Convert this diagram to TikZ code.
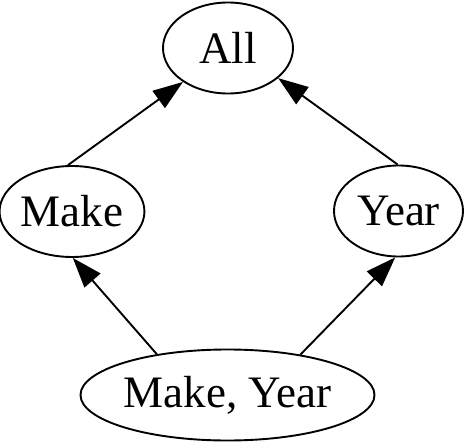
\documentclass[tikz,border=0pt]{standalone}
\usepackage{fontspec}
\setmainfont{Liberation Serif}
\usetikzlibrary{arrows.meta, shapes.geometric}

\tikzset{
    lattice/.style={ellipse, draw, line width=1.9pt, inner sep=0pt,
        minimum height=91pt, font=\fontsize{45}{54}\selectfont},
    rollup/.style={-{Triangle[length=30pt,width=21pt]}, line width=1.9pt}
}

\begin{document}
\begin{tikzpicture}[x=1pt,y=-1pt]
        \useasboundingbox (0,0) rectangle (464,444);

        % the grouping sets, top to bottom
        \node[lattice, minimum width=130pt] (all) at (228,48) {All};
        \node[lattice, minimum width=130pt] (mk) at (72,211.5) {Make};
        \node[lattice, minimum width=129pt] (yr) at (398.5,211) {Year};
        \node[lattice, minimum width=289pt] (mkyr) at (227.5,395) {Make, Year};

        % roll up edges
        \draw[rollup] (mk.95) -- (all.217);
        \draw[rollup] (yr.91) -- (all.-31);
        \draw[rollup] (mkyr.150) -- (mk.-89);
        \draw[rollup] (mkyr.29) -- (yr.-94);
    \end{tikzpicture}
\end{document}
